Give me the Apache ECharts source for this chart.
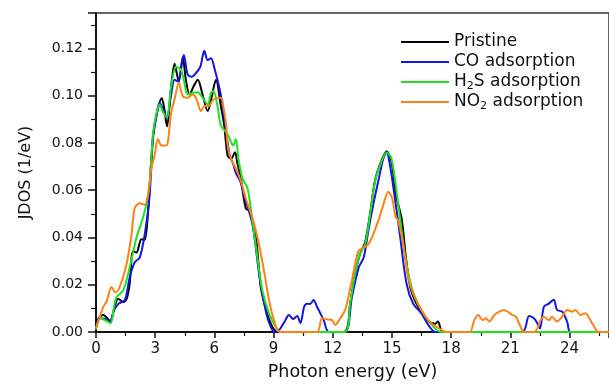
<!DOCTYPE html>
<html>
<head>
<meta charset="utf-8">
<script src="https://cdn.jsdelivr.net/npm/echarts@6/dist/echarts.min.js"></script>
<style>html,body{margin:0;padding:0;background:#fff;}#c{width:609px;height:386px;}</style>
</head>
<body>
<div id="c"></div>
<script>
const seriesNames = ['Pristine', 'CO adsorption', 'H2S adsorption', 'NO2 adsorption'];
const xTicks = [0, 3, 6, 9, 12, 15, 18, 21, 24];
const yTicks = [0, 0.02, 0.04, 0.06, 0.08, 0.10, 0.12];

const pristineE = [0,0.15,0.37,0.55,0.72,0.9,1.12,1.38,1.55,1.7,1.88,2.05,2.3,2.47,2.64,2.77,2.9,3.1,3.33,3.45,3.6,3.8,3.98,4.2,4.4,4.55,4.74,4.95,5.16,5.4,5.66,5.85,6.08,6.33,6.5,6.67,6.84,7.05,7.15,7.34,7.59,7.8,8.09,8.35,8.54,8.85,9.2,12.55,12.88,13.13,13.38,13.64,13.89,14.14,14.4,14.73,14.98,15.2,15.49,15.7,15.9,16.07,16.3,16.8,17.2,17.33,17.6,26];
const pristineV = [0.002,0.006,0.0072,0.006,0.0045,0.009,0.0141,0.0127,0.014,0.02,0.0343,0.0336,0.0392,0.039,0.051,0.069,0.083,0.093,0.099,0.095,0.087,0.103,0.1135,0.106,0.1165,0.107,0.1005,0.104,0.1068,0.1005,0.0935,0.099,0.1068,0.0956,0.0873,0.0747,0.0733,0.0761,0.072,0.065,0.0524,0.051,0.0413,0.019,0.012,0.0037,0,0,0.012,0.0246,0.033,0.038,0.05,0.064,0.071,0.0765,0.072,0.058,0.048,0.032,0.02,0.0152,0.011,0.005,0.0035,0.0044,0,0];

const coE = [0,0.2,0.45,0.7,0.9,1.15,1.46,1.71,1.96,2.22,2.47,2.69,2.8,2.89,3.05,3.22,3.4,3.59,3.8,3.98,4.15,4.45,4.65,4.85,5.07,5.29,5.49,5.66,5.83,6.0,6.27,6.44,6.6,6.78,6.95,7.1,7.3,7.5,7.93,8.29,8.63,8.85,9.05,9.3,9.6,9.77,10.0,10.2,10.36,10.55,10.7,10.85,11.03,11.2,11.37,11.54,11.8,12.63,12.97,13.32,13.57,13.8,14.05,14.3,14.56,14.73,14.9,15.15,15.4,15.74,16.07,16.49,16.9,17.2,21.6,21.95,22.2,22.37,22.5,22.7,22.95,23.2,23.37,23.63,23.88,24.05,26];
const coV = [0.002,0.0058,0.0055,0.0042,0.009,0.012,0.0135,0.0232,0.0295,0.0316,0.0413,0.0552,0.069,0.083,0.091,0.097,0.094,0.0908,0.1,0.1068,0.106,0.1172,0.1089,0.108,0.1096,0.1123,0.119,0.1151,0.1158,0.1117,0.1026,0.0942,0.0845,0.0747,0.0712,0.067,0.064,0.058,0.0455,0.0232,0.0079,0.0023,0,0.001,0.005,0.0072,0.0055,0.0068,0.0037,0.0107,0.012,0.0118,0.0135,0.0107,0.0079,0.005,0,0,0.0148,0.0274,0.0316,0.0427,0.0538,0.0636,0.0733,0.0761,0.0705,0.0566,0.0413,0.0204,0.012,0.0079,0.0023,0,0,0.0068,0.0058,0.0037,0.0015,0.0107,0.012,0.0137,0.0093,0.0086,0.0044,0,0];

const h2sE = [0,0.2,0.45,0.74,0.9,1.04,1.38,1.71,2.05,2.38,2.64,2.77,2.89,3.05,3.22,3.4,3.59,3.81,4.06,4.31,4.48,4.65,4.9,5.15,5.41,5.66,5.83,5.95,6.16,6.33,6.6,6.78,6.95,7.09,7.22,7.42,7.68,7.93,8.18,8.43,8.77,9.1,9.35,12.6,12.88,13.13,13.38,13.64,13.89,14.14,14.4,14.73,14.98,15.32,15.65,15.99,16.32,16.83,17.5,26];
const h2sV = [0.001,0.0058,0.005,0.0037,0.01,0.0148,0.0176,0.0274,0.0399,0.0483,0.058,0.069,0.084,0.092,0.0963,0.093,0.0908,0.104,0.1123,0.111,0.1054,0.1005,0.1012,0.1015,0.0991,0.0963,0.1012,0.102,0.0956,0.0873,0.0845,0.0817,0.0789,0.0817,0.0733,0.065,0.0608,0.0469,0.0316,0.0176,0.0079,0.0023,0,0,0.012,0.0246,0.033,0.0371,0.0496,0.0636,0.0705,0.0761,0.0733,0.0538,0.033,0.019,0.012,0.005,0,0];

const no2E = [0,0.2,0.37,0.54,0.79,0.95,1.04,1.29,1.55,1.8,1.96,2.22,2.47,2.69,2.8,2.97,3.14,3.31,3.56,3.81,3.98,4.2,4.4,4.65,4.9,5.07,5.32,5.49,5.71,5.95,6.33,6.45,6.6,6.67,6.84,7.09,7.34,7.59,7.93,8.26,8.54,8.77,9.02,9.3,11.2,11.45,11.7,11.96,12.13,12.38,12.63,12.97,13.3,13.57,13.8,14.05,14.3,14.56,14.81,15.01,15.18,15.32,15.57,15.82,16.15,16.49,16.9,17.3,17.8,18.93,19.17,19.38,19.6,19.77,19.93,20.19,20.44,20.66,20.86,21.1,21.28,21.44,21.7,22.2,22.4,22.53,22.7,22.95,23.12,23.35,23.63,23.88,24.13,24.3,24.55,24.8,25.0,25.2,25.47,26];
const no2V = [0.0016,0.0065,0.0107,0.013,0.019,0.017,0.0169,0.0211,0.0288,0.0413,0.0524,0.0545,0.0538,0.0608,0.069,0.0747,0.0817,0.0789,0.0789,0.0929,0.0984,0.1054,0.0998,0.0991,0.1005,0.0991,0.0935,0.0956,0.0956,0.0984,0.0991,0.0956,0.0873,0.0789,0.0733,0.0692,0.064,0.0566,0.0483,0.0371,0.0246,0.0135,0.005,0,0,0.0058,0.0054,0.005,0.003,0.0058,0.0093,0.0218,0.0343,0.0357,0.0371,0.0413,0.0469,0.0538,0.0594,0.0566,0.049,0.047,0.0371,0.0232,0.0148,0.0093,0.0044,0.002,0,0,0.005,0.0072,0.005,0.0058,0.0044,0.0072,0.0086,0.0093,0.0086,0.0072,0.0065,0.0037,0,0,0.002,0.005,0.0065,0.005,0.0065,0.0044,0.0065,0.0093,0.0086,0.0093,0.0072,0.0079,0.0058,0.003,0,0];

const colors = ['#000000', '#1414e6', '#1ee31e', '#ff8113'];
const FONT = 'DejaVu Sans';

function zip(xs, ys) { return xs.map((x, i) => [x, ys[i]]); }
const allData = [zip(pristineE, pristineV), zip(coE, coV), zip(h2sE, h2sV), zip(no2E, no2V)];

const chart = echarts.init(document.getElementById('c'), null, {renderer: 'canvas'});
chart.setOption({
  backgroundColor: '#ffffff',
  animation: false,
  grid: {left: 96, top: 13, right: -3, bottom: 51, show: true, borderColor: '#333', borderWidth: 1.5},
  legend: {
    orient: 'vertical', left: 396, top: 27,
    icon: 'rect', itemWidth: 48, itemHeight: 2, itemGap: 0,
    data: seriesNames,
    textStyle: {fontFamily: FONT, fontSize: 17, color: '#111', lineHeight: 20,
      rich: {sub: {fontFamily: FONT, fontSize: 11, color: '#111', padding: [9, 0, 0, 0]}}},
    formatter: function (n) {
      if (n === 'H2S adsorption') return 'H{sub|2}S adsorption';
      if (n === 'NO2 adsorption') return 'NO{sub|2} adsorption';
      return n;
    }
  },
  xAxis: {
    type: 'value', min: 0, max: 26, interval: 3,
    name: 'Photon energy (eV)', nameLocation: 'middle', nameGap: 31,
    nameTextStyle: {fontFamily: FONT, fontSize: 17.5, color: '#111'},
    axisLine: {onZero: false, lineStyle: {color: '#111', width: 2}},
    axisTick: {length: 6, lineStyle: {color: '#111', width: 1.5}},
    minorTick: {show: true, splitNumber: 2, length: 4, lineStyle: {color: '#111', width: 1.2}},
    splitLine: {show: false},
    axisLabel: {fontFamily: FONT, fontSize: 15, color: '#111', margin: 10, showMaxLabel: false,
      formatter: v => xTicks.indexOf(v) >= 0 ? String(v) : ''}
  },
  yAxis: {
    type: 'value', min: 0, max: 0.135, interval: 0.02,
    name: 'JDOS (1/eV)', nameLocation: 'middle', nameGap: 62,
    nameTextStyle: {fontFamily: FONT, fontSize: 16, color: '#111'},
    axisLine: {lineStyle: {color: '#111', width: 2}},
    axisTick: {length: 8, lineStyle: {color: '#111', width: 1.5}},
    minorTick: {show: true, splitNumber: 2, length: 5, lineStyle: {color: '#111', width: 1.2}},
    splitLine: {show: false},
    axisLabel: {fontFamily: FONT, fontSize: 14, color: '#111', margin: 13, showMaxLabel: false,
      formatter: v => yTicks.some(t => Math.abs(t - v) < 1e-9) ? v.toFixed(2) : ''}
  },
  series: seriesNames.map((n, i) => ({
    name: n, type: 'line', data: allData[i], symbol: 'none', smooth: 0.3,
    color: colors[i], lineStyle: {width: 2, color: colors[i]}, z: 2 + i
  }))
});
</script>
</body>
</html>
